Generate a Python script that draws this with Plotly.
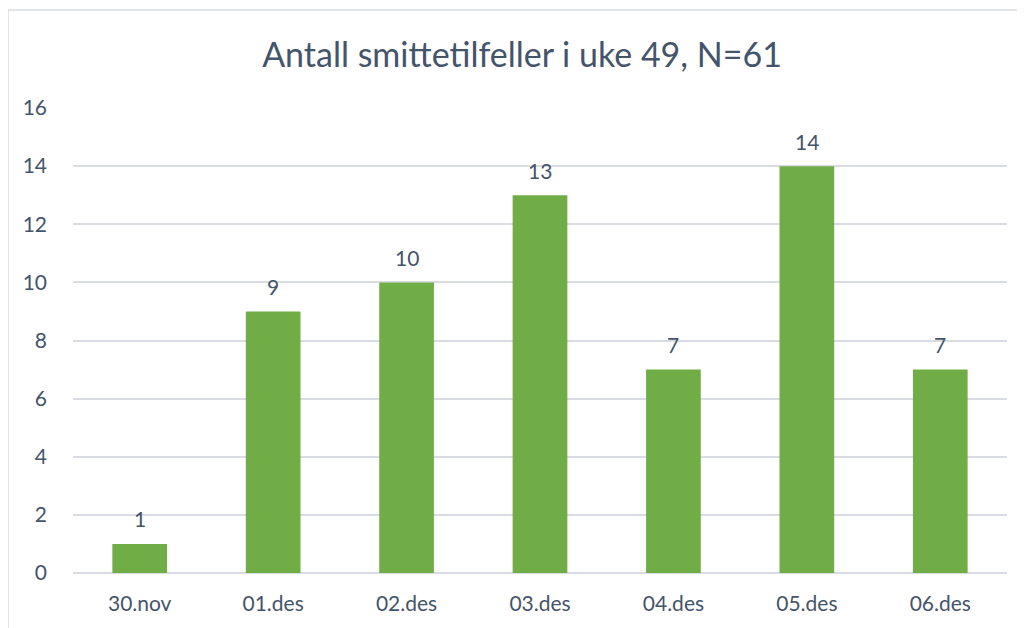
import plotly.graph_objects as go

categories = ["30.nov", "01.des", "02.des", "03.des", "04.des", "05.des", "06.des"]
values = [1, 9, 10, 13, 7, 14, 7]
y_ticks = [0, 2, 4, 6, 8, 10, 12, 14, 16]
title_text = "Antall smittetilfeller i uke 49, N=61"

# page body adds an 8px offset; figure coordinates below compensate for it
OFF = 8
W, H = 1025, 628
ml, mr, mt, mb = 73 - OFF, 26, 108 - OFF, 63
pw, ph = W - ml - mr, H - mt - mb

text_color = "#44546a"
font_family = "Lato, 'Open Sans', sans-serif"

fig = go.Figure()
fig.add_trace(go.Bar(
    x=categories, y=values,
    marker=dict(color="#70ad47", line=dict(width=0)),
    hoverinfo="x+y",
))

for c, v in zip(categories, values):
    fig.add_annotation(x=c, y=v, text=str(v), showarrow=False,
                       yshift=25, yanchor="middle",
                       font=dict(size=21, color=text_color, family=font_family))

# chart-area border
fig.add_shape(type="rect", xref="paper", yref="paper",
              x0=(8 - OFF - ml) / pw, x1=(W + 10 - ml) / pw,
              y0=-(H + 10 - mt - ph) / ph, y1=(H - mb - (10 - OFF)) / ph,
              line=dict(color="#d9dde3", width=1.5), fillcolor="rgba(0,0,0,0)",
              layer="below")

fig.update_layout(
    width=W, height=H,
    margin=dict(l=ml, r=mr, t=mt, b=mb),
    paper_bgcolor="white", plot_bgcolor="white",
    bargap=0.59,
    showlegend=False,
    font=dict(family=font_family, color=text_color, size=21),
    title=dict(text=title_text, x=(522 - OFF) / W, xanchor="center",
               y=1 - (55 - OFF) / H, yanchor="middle",
               font=dict(size=34, color=text_color, family=font_family)),
    xaxis=dict(showgrid=False, showline=False, zeroline=False, ticks="",
               ticklabelstandoff=16, tickfont=dict(size=21, color=text_color)),
    yaxis=dict(range=[0, 16], tickvals=y_ticks, showgrid=True,
               gridcolor="#d9dde3", gridwidth=1.5, zeroline=True,
               zerolinecolor="#d9dde3", zerolinewidth=1.5,
               showline=False, ticks="", ticklabelstandoff=25,
               tickfont=dict(size=21, color=text_color)),
)

fig.write_html("out.html")
